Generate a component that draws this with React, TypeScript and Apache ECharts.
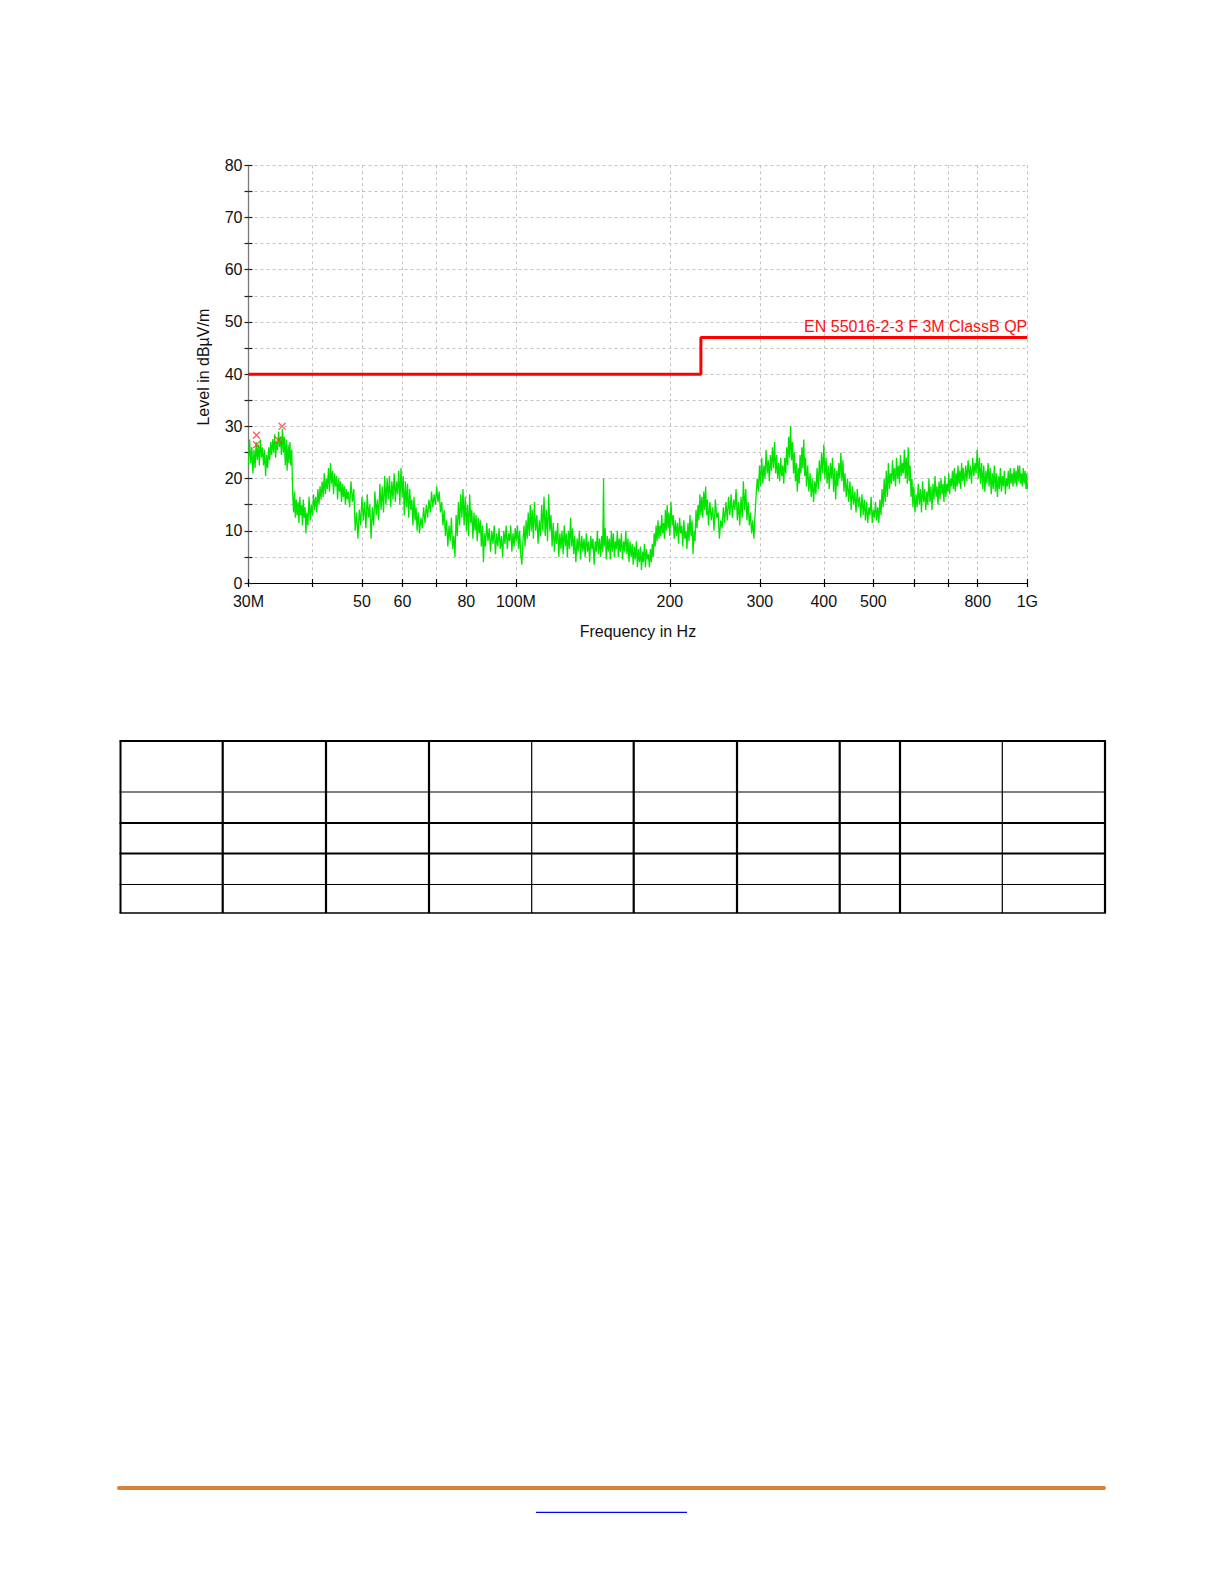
import React, { useEffect, useRef } from "react";
import * as echarts from "echarts";

// ---------- data ----------
const X_TICKS = [30, 40, 50, 60, 70, 80, 100, 200, 300, 400, 500, 600, 700, 800, 1000];
const X_LABELS = [30, 50, 60, 80, 100, 200, 300, 400, 500, 800, 1000];
const Y_LABELS = [0, 10, 20, 30, 40, 50, 60, 70, 80];

const LIMIT_NAME = "EN 55016-2-3 F 3M ClassB QP";
const LIMIT: [number, number][] = [
  [30, 40],
  [230, 40],
  [230, 47],
  [1000, 47],
];

const MARKERS: [number, number][] = [
  [31.1, 28.3],
  [31.1, 26.5],
  [34.3, 27.4],
  [34.9, 30.0],
];

// Measured trace [MHz, dBµV/m]
const SPECTRUM: [number, number][] = [
  [30.0, 22.5], [30.15, 27.5], [30.3, 23], [30.45, 26], [30.6, 21], [30.75, 25.5], [30.9, 22], [31.05, 27],
  [31.2, 23.5], [31.35, 26.5], [31.5, 22.5], [31.65, 27.5], [31.8, 24], [31.95, 26], [32.1, 22.5], [32.25, 25.5],
  [32.4, 20.5], [32.55, 24.5], [32.7, 22], [32.85, 26], [33.0, 23.5], [33.15, 27], [33.3, 24.5], [33.45, 27.5],
  [33.6, 25], [33.75, 28.5], [33.9, 24], [34.05, 27], [34.2, 25.5], [34.35, 29], [34.5, 26], [34.65, 28],
  [34.8, 24.5], [34.95, 29.5], [35.1, 25], [35.25, 28], [35.4, 22.5], [35.55, 27.5], [35.7, 21.5], [35.85, 26.5],
  [36.0, 23], [36.15, 27], [36.3, 22.5], [36.45, 25.5], [36.6, 17], [36.75, 13.5], [36.9, 17.5], [37.05, 12.5],
  [37.2, 16], [37.35, 13], [37.5, 15.5], [37.65, 11.5], [37.8, 16.5], [37.95, 13], [38.1, 15], [38.25, 11],
  [38.4, 16], [38.55, 12.5], [38.7, 14.5], [38.85, 9.5], [39.0, 13.5], [39.2, 11], [39.4, 16.5], [39.6, 12],
  [39.8, 15], [40.0, 13], [40.2, 17], [40.4, 14], [40.6, 16.5], [40.8, 13.5], [41.0, 18], [41.2, 15],
  [41.4, 18.5], [41.6, 16], [41.8, 19.5], [42.0, 16.5], [42.2, 21], [42.4, 17], [42.6, 20], [42.8, 18],
  [43.0, 22], [43.2, 17.5], [43.4, 23], [43.6, 19], [43.8, 21.5], [44.0, 17], [44.2, 21], [44.4, 18.5],
  [44.6, 20.5], [44.8, 16], [45.0, 20], [45.2, 17.5], [45.4, 19.5], [45.6, 15.5], [45.8, 19], [46.0, 16.5],
  [46.2, 18.5], [46.4, 15], [46.6, 18], [46.8, 16], [47.0, 17.5], [47.3, 14.5], [47.6, 19.5], [47.9, 15.5],
  [48.2, 18], [48.5, 10], [48.8, 13.5], [49.1, 8.5], [49.4, 14], [49.7, 11], [50.0, 16.5], [50.3, 12],
  [50.6, 15.5], [50.9, 10.5], [51.2, 17], [51.5, 12.5], [51.8, 15], [52.1, 8.5], [52.4, 14.5], [52.7, 11],
  [53.0, 17.5], [53.3, 13], [53.6, 16], [53.9, 12], [54.2, 19], [54.5, 14], [54.8, 18.5], [55.1, 13.5],
  [55.4, 20.5], [55.7, 15], [56.0, 20], [56.3, 16], [56.6, 20.5], [56.9, 14.5], [57.2, 19.5], [57.5, 16],
  [57.8, 21], [58.1, 15.5], [58.4, 19.5], [58.7, 17], [59.0, 21.5], [59.3, 15], [59.6, 22], [59.9, 16.5],
  [60.2, 20.5], [60.5, 13], [60.8, 19.5], [61.1, 14.5], [61.4, 19], [61.7, 12.5], [62.0, 18], [62.3, 14],
  [62.6, 16], [62.9, 11], [63.2, 16.5], [63.5, 12], [63.8, 14.5], [64.1, 10], [64.4, 13.5], [64.8, 9.5],
  [65.2, 12.5], [65.6, 10.5], [66.0, 14.5], [66.4, 11.5], [66.8, 15], [67.2, 12.5], [67.6, 16], [68.0, 13.5],
  [68.4, 17.5], [68.8, 14.5], [69.2, 17], [69.6, 15], [70.0, 18.5], [70.4, 15.5], [70.8, 17.5], [71.2, 13.5],
  [71.6, 15.5], [72.0, 11], [72.4, 14], [72.8, 9], [73.2, 12], [73.6, 7], [74.0, 11], [74.4, 8],
  [74.8, 12.5], [75.2, 6.5], [75.6, 9], [76.0, 5], [76.4, 13], [76.8, 9], [77.2, 15.5], [77.6, 11],
  [78.0, 17], [78.4, 12.5], [78.8, 18], [79.2, 11], [79.6, 16.5], [80.0, 10], [80.4, 15], [80.8, 9],
  [81.2, 17], [81.6, 11.5], [82.0, 14], [82.4, 8.5], [82.8, 13.5], [83.2, 10], [83.6, 13], [84.0, 8],
  [84.4, 12.5], [84.8, 9.5], [85.2, 12], [85.6, 7], [86.0, 11], [86.4, 4], [86.8, 9.5], [87.2, 7],
  [87.7, 11.5], [88.2, 8], [88.7, 10.5], [89.2, 6], [89.7, 10], [90.2, 7.5], [90.7, 11], [91.2, 5.5],
  [91.7, 9.5], [92.2, 7], [92.7, 10.5], [93.2, 6.5], [93.7, 9], [94.2, 5], [94.7, 10], [95.2, 7.5],
  [95.7, 11], [96.2, 6.5], [96.7, 9.5], [97.2, 8], [97.7, 11], [98.2, 6], [98.7, 9.5], [99.2, 7],
  [99.7, 10.5], [100.2, 8], [100.7, 11], [101.2, 6.5], [101.7, 10], [102.2, 5.5], [102.7, 3.5], [103.2, 8],
  [103.7, 11], [104.2, 7], [104.7, 12], [105.2, 8.5], [105.7, 13.5], [106.2, 9], [106.7, 15], [107.2, 10],
  [107.7, 14], [108.2, 8.5], [108.7, 15.5], [109.3, 10], [109.9, 13], [110.5, 7.5], [111.1, 12], [111.7, 9],
  [112.3, 15], [112.9, 10], [113.5, 16.5], [114.1, 9], [114.7, 14], [115.3, 8], [115.9, 17], [116.5, 10],
  [117.1, 13], [117.7, 7], [118.3, 11.5], [118.9, 6], [119.5, 10], [120.1, 7.5], [120.7, 11.5], [121.3, 5],
  [121.9, 9.5], [122.5, 6.5], [123.1, 10], [123.7, 5.5], [124.3, 11], [124.9, 7], [125.5, 9.5], [126.1, 5],
  [126.7, 10], [127.3, 6.5], [127.9, 12.5], [128.5, 7], [129.1, 10.5], [129.7, 5.5], [130.3, 9], [131.0, 4],
  [131.7, 8.5], [132.4, 6], [133.1, 10], [133.8, 4.5], [134.5, 9], [135.2, 6], [135.9, 8.5], [136.6, 5],
  [137.3, 9.5], [138.0, 6], [138.7, 8], [139.4, 4], [140.1, 9], [140.8, 6.5], [141.5, 8.5], [142.2, 3.5],
  [142.9, 8], [143.6, 6], [144.3, 10], [145.0, 5.5], [145.7, 8.5], [146.4, 5], [147.1, 9], [147.8, 6],
  [148.4, 20], [148.8, 7], [149.5, 10.5], [150.2, 4.5], [150.9, 9], [151.6, 6], [152.3, 8.5], [153.0, 4.5],
  [153.7, 10], [154.4, 6], [155.1, 9.5], [155.8, 5], [156.5, 8], [157.2, 6.5], [157.9, 10], [158.6, 5],
  [159.3, 8.5], [160.0, 6], [160.8, 9.5], [161.6, 4.5], [162.4, 8], [163.2, 6], [164.0, 10], [164.8, 5.5],
  [165.6, 8.5], [166.4, 4], [167.2, 8], [168.0, 5], [168.8, 7.5], [169.6, 3.5], [170.4, 7], [171.2, 4.5],
  [172.0, 8], [172.8, 3], [173.6, 6.5], [174.4, 4], [175.2, 7], [176.0, 2.5], [176.8, 6], [177.6, 4],
  [178.4, 7.5], [179.2, 3], [180.0, 6.5], [180.8, 4.5], [181.6, 5.5], [182.4, 3], [183.2, 6.5], [184.0, 4],
  [184.8, 7.5], [185.6, 5], [186.4, 9.5], [187.2, 7], [188.0, 11], [188.8, 8], [189.6, 12], [190.4, 8.5],
  [191.2, 11], [192.0, 9], [192.8, 13], [193.6, 9.5], [194.4, 11.5], [195.2, 8.5], [196.0, 14], [196.8, 10],
  [197.6, 15], [198.4, 10.5], [199.2, 13.5], [200.0, 9], [201.0, 15.5], [202.0, 11], [203.0, 13], [204.0, 8.5],
  [205.0, 12], [206.0, 9], [207.0, 11.5], [208.0, 7.5], [209.0, 12.5], [210.0, 9.5], [211.0, 11], [212.0, 7],
  [213.0, 12], [214.0, 8.5], [215.0, 10], [216.0, 6.5], [217.0, 11.5], [218.0, 8], [219.0, 13], [220.0, 9],
  [221.0, 12], [222.0, 5.5], [223.0, 10], [224.0, 8], [225.0, 14], [226.0, 10.5], [227.0, 15], [228.0, 12],
  [229.0, 17], [230.0, 13], [231.0, 16.5], [232.0, 12.5], [233.0, 17.5], [234.0, 14], [235.0, 18.5], [236.0, 13],
  [237.0, 16], [238.0, 11], [239.5, 15.5], [241.0, 12], [242.5, 14.5], [244.0, 10], [245.5, 16], [247.0, 12.5],
  [248.5, 13.5], [250.0, 8.5], [251.5, 12], [253.0, 10.5], [254.5, 14.5], [256.0, 11.5], [257.5, 15.5], [259.0, 12],
  [260.5, 16.5], [262.0, 13], [263.5, 17], [265.0, 12.5], [266.5, 16], [268.0, 14], [269.5, 18], [271.0, 12],
  [272.5, 15.5], [274.0, 11], [275.5, 16.5], [277.0, 12.5], [278.5, 19.5], [280.0, 14], [281.5, 18], [283.0, 12],
  [284.5, 15.5], [286.0, 11], [287.5, 13.5], [289.0, 9.5], [290.5, 12], [292.0, 8.5], [293.5, 13], [295.0, 17],
  [296.5, 20], [298.0, 17.5], [299.5, 22.5], [301.0, 18.5], [302.5, 24], [304.0, 19], [305.5, 22.5], [307.0, 20],
  [308.5, 25.5], [310.0, 21], [311.5, 23.5], [313.0, 19.5], [314.5, 24.5], [316.0, 21.5], [317.5, 26], [319.0, 22],
  [320.5, 27], [322.0, 21], [323.5, 24.5], [325.0, 20], [326.5, 23], [328.0, 19.5], [329.5, 24], [331.0, 20.5],
  [332.5, 22.5], [334.0, 19], [335.5, 24], [337.0, 21], [338.5, 26], [340.0, 22.5], [341.5, 28], [343.0, 24],
  [344.5, 30], [346.0, 23.5], [347.5, 27], [349.0, 21], [350.5, 25], [352.0, 19.5], [353.5, 23], [355.0, 17.5],
  [356.5, 22], [358.0, 19], [359.5, 24.5], [361.0, 21], [362.5, 26], [364.0, 22], [365.5, 27.5], [367.0, 20.5],
  [368.5, 24], [370.0, 18.5], [372.0, 22.5], [374.0, 17.5], [376.0, 21], [378.0, 16.5], [380.0, 20], [382.0, 15.5],
  [384.0, 19.5], [386.0, 17], [388.0, 22], [390.0, 18], [392.0, 23.5], [394.0, 19.5], [396.0, 25], [398.0, 21],
  [400.0, 26.5], [402.0, 20], [404.0, 24], [406.0, 19], [408.0, 22.5], [410.0, 18], [412.0, 23], [414.0, 20],
  [416.0, 24], [418.0, 17.5], [420.0, 22], [422.0, 16], [424.0, 21.5], [426.0, 18.5], [428.0, 23], [430.0, 20],
  [432.0, 25], [434.0, 19.5], [436.0, 23.5], [438.0, 17.5], [440.0, 21], [442.5, 16.5], [445.0, 20], [447.5, 15.5],
  [450.0, 19.5], [452.5, 14], [455.0, 18.5], [457.5, 15], [460.0, 17.5], [462.5, 13.5], [465.0, 18], [467.5, 14.5],
  [470.0, 16.5], [472.5, 12.5], [475.0, 17], [477.5, 13], [480.0, 16], [482.5, 12], [485.0, 15.5], [487.5, 11.5],
  [490.0, 14.5], [492.5, 13], [495.0, 16.5], [497.5, 11.5], [500.0, 14], [502.5, 12.5], [505.0, 15.5], [507.5, 12],
  [510.0, 14.5], [512.5, 11.5], [515.0, 16], [517.5, 13], [520.0, 18], [522.5, 14.5], [525.0, 20], [527.5, 15.5],
  [530.0, 21.5], [532.5, 16.5], [535.0, 23], [537.5, 18], [540.0, 21], [542.5, 19], [545.0, 23.5], [547.5, 19.5],
  [550.0, 22], [552.5, 18.5], [555.0, 24], [557.5, 20], [560.0, 22.5], [562.5, 19], [565.0, 24.5], [567.5, 20.5],
  [570.0, 23], [572.5, 21], [575.0, 25.5], [577.5, 20], [580.0, 24], [582.5, 19], [585.0, 26], [587.5, 19.5],
  [590.0, 22.5], [592.5, 16.5], [595.0, 20], [597.5, 14.5], [600.0, 18.5], [603.0, 13.5], [606.0, 17], [609.0, 14.5],
  [612.0, 19], [615.0, 15], [618.0, 18], [621.0, 13.5], [624.0, 19.5], [627.0, 15.5], [630.0, 18], [633.0, 14],
  [636.0, 17.5], [639.0, 15], [642.0, 20], [645.0, 15.5], [648.0, 18.5], [651.0, 14], [654.0, 19], [657.0, 16],
  [660.0, 20.5], [663.0, 16.5], [666.0, 18.5], [669.0, 15], [672.0, 19.5], [675.0, 16], [678.0, 20], [681.0, 17],
  [684.0, 19], [687.0, 15.5], [690.0, 20.5], [693.0, 16.5], [696.0, 19], [699.0, 17.5], [702.0, 21], [705.0, 17],
  [708.0, 20], [711.0, 18.5], [714.0, 21.5], [717.0, 18], [720.0, 22], [723.0, 17.5], [726.0, 21], [729.0, 18.5],
  [732.0, 22.5], [735.0, 19], [738.0, 21.5], [741.0, 18], [744.0, 23], [747.0, 19.5], [750.0, 22], [754.0, 18.5],
  [758.0, 22.5], [762.0, 19.5], [766.0, 23.5], [770.0, 20], [774.0, 22.5], [778.0, 19], [782.0, 24], [786.0, 20.5],
  [790.0, 23], [794.0, 21], [798.0, 25.5], [802.0, 20], [806.0, 24], [810.0, 19], [814.0, 23], [818.0, 18],
  [822.0, 22.5], [826.0, 17.5], [830.0, 21.5], [834.0, 19], [838.0, 23], [842.0, 18.5], [846.0, 22], [850.0, 17],
  [854.0, 21], [858.0, 18], [862.0, 22.5], [866.0, 17.5], [870.0, 21], [874.0, 16.5], [878.0, 20.5], [882.0, 18],
  [886.0, 22], [890.0, 17.5], [894.0, 20.5], [898.0, 18.5], [902.0, 21.5], [906.0, 17], [910.0, 20], [914.0, 18.5],
  [918.0, 21.5], [922.0, 18], [926.0, 22], [930.0, 19], [934.0, 21], [938.0, 18.5], [942.0, 22], [946.0, 19],
  [950.0, 21.5], [954.0, 18.5], [958.0, 22.5], [962.0, 19.5], [966.0, 22.5], [970.0, 19], [974.0, 21], [978.0, 18.5],
  [982.0, 22], [986.0, 19], [990.0, 21.5], [994.0, 18], [998.0, 21], [1000.0, 18],
];

// ---------- layout (page drawing) ----------
const FONT = '"Liberation Sans", Arial, Helvetica, sans-serif';
const TABLE_LEFT = 120.5;
const TABLE_RIGHT = 1105;
const TABLE_TOP = 741;
const TABLE_BOTTOM = 913;
const TABLE_ROWS = [
  { y: 741, w: 2.2 },
  { y: 792, w: 1.2 },
  { y: 823, w: 2.2 },
  { y: 853.5, w: 2.2 },
  { y: 884.5, w: 1.2 },
  { y: 913, w: 1.5 },
];
const TABLE_COLS = [
  { x: 120.5, w: 2 },
  { x: 222.7, w: 2.2 },
  { x: 326, w: 2.2 },
  { x: 429, w: 2.2 },
  { x: 531.7, w: 1.2 },
  { x: 633.7, w: 2.2 },
  { x: 737, w: 2.2 },
  { x: 839.7, w: 2.2 },
  { x: 900, w: 2.2 },
  { x: 1002.3, w: 1.2 },
  { x: 1105, w: 2.2 },
];

const fmtX = (v: number) => {
  const r = Math.round(v);
  if (r === 30) return "30M";
  if (r === 100) return "100M";
  if (r === 1000) return "1G";
  return String(r);
};

const CROSS = "path://M0,1.2L1.2,0L10,8.8L8.8,10Z M8.8,0L10,1.2L1.2,10L0,8.8Z";

export default function App() {
  const ref = useRef<HTMLDivElement>(null);

  useEffect(() => {
    if (!ref.current) return;
    const chart = echarts.init(ref.current, undefined, { renderer: "svg" });

    const gridLine = { show: true, lineStyle: { color: "#c4c4c4", width: 1, type: [3, 3] as any } };
    const labelText = { fontFamily: FONT, fontSize: 16, color: "#111" };

    const graphics: any[] = [];
    TABLE_ROWS.forEach((r) =>
      graphics.push({
        type: "line",
        silent: true,
        shape: { x1: TABLE_LEFT - 1, y1: r.y, x2: TABLE_RIGHT + 1, y2: r.y },
        style: { stroke: "#000", lineWidth: r.w },
      })
    );
    TABLE_COLS.forEach((c) =>
      graphics.push({
        type: "line",
        silent: true,
        shape: { x1: c.x, y1: TABLE_TOP, x2: c.x, y2: TABLE_BOTTOM },
        style: { stroke: "#000", lineWidth: c.w },
      })
    );
    graphics.push({
      type: "line",
      silent: true,
      shape: { x1: 119, y1: 1488, x2: 1104, y2: 1488 },
      style: { stroke: "#d88036", lineWidth: 4, lineCap: "round" },
    });
    graphics.push({
      type: "line",
      silent: true,
      shape: { x1: 536, y1: 1512.3, x2: 687, y2: 1512.3 },
      style: { stroke: "#0000ff", lineWidth: 1.3 },
    });

    chart.setOption({
      animation: false,
      backgroundColor: "#ffffff",
      grid: {
        left: 248.5,
        top: 165.3,
        width: 778.8,
        height: 417.7,
        containLabel: false,
        outerBoundsMode: "none",
      } as any,
      xAxis: [
        {
          type: "log",
          logBase: 10,
          min: 30,
          max: 1000,
          position: "bottom",
          name: "Frequency in Hz",
          nameLocation: "middle",
          nameGap: 40,
          nameMoveOverlap: false,
          nameTextStyle: { ...labelText },
          axisLine: { show: true, onZero: false, lineStyle: { color: "#000", width: 1.2 } },
          axisTick: { show: true, inside: false, length: 4, customValues: X_TICKS, lineStyle: { color: "#000", width: 1.2 } },
          axisLabel: { show: true, customValues: X_LABELS, formatter: fmtX, margin: 10, ...labelText },
          minorTick: { show: false },
          minorSplitLine: { show: false },
          splitLine: gridLine,
        },
        {
          type: "log",
          logBase: 10,
          min: 30,
          max: 1000,
          position: "bottom",
          axisLine: { show: false, onZero: false },
          axisTick: { show: true, inside: true, length: 4, customValues: X_TICKS, lineStyle: { color: "#000", width: 1.2 } },
          axisLabel: { show: false },
          splitLine: { show: false },
        },
      ] as any,
      yAxis: [
        {
          type: "value",
          min: 0,
          max: 80,
          interval: 5,
          position: "left",
          name: "Level in dBµV/m",
          nameLocation: "middle",
          nameGap: 37,
          nameRotate: 90,
          nameMoveOverlap: false,
          nameTextStyle: { ...labelText, padding: [0, 0, 0, 14] },
          axisLine: { show: true, onZero: false, lineStyle: { color: "#7a7a7a", width: 1.3 } },
          axisTick: { show: true, inside: false, length: 4, lineStyle: { color: "#222", width: 1.2 } },
          axisLabel: { show: true, customValues: Y_LABELS, margin: 6, ...labelText },
          splitLine: gridLine,
        },
        {
          type: "value",
          min: 0,
          max: 80,
          interval: 5,
          position: "left",
          axisLine: { show: false, onZero: false },
          axisTick: { show: true, inside: true, length: 4, lineStyle: { color: "#222", width: 1.2 } },
          axisLabel: { show: false },
          splitLine: { show: false },
        },
      ] as any,
      graphic: graphics,
      series: [
        {
          name: "Trace",
          type: "line",
          xAxisIndex: 0,
          yAxisIndex: 0,
          data: SPECTRUM,
          showSymbol: false,
          symbol: "none",
          lineStyle: { color: "#00e400", width: 1.3 },
          z: 3,
        },
        {
          name: LIMIT_NAME,
          type: "line",
          xAxisIndex: 0,
          yAxisIndex: 0,
          data: LIMIT,
          showSymbol: false,
          symbol: "none",
          lineStyle: { color: "#ff0000", width: 3 },
          z: 4,
          markPoint: {
            symbol: "circle",
            symbolSize: 1,
            itemStyle: { color: "rgba(0,0,0,0)" },
            silent: true,
            data: [
              {
                coord: LIMIT[LIMIT.length - 1],
                label: {
                  show: true,
                  position: "top",
                  align: "right",
                  distance: 3,
                  formatter: LIMIT_NAME,
                  fontFamily: FONT,
                  fontSize: 16,
                  color: "#ff1010",
                },
              },
            ],
          },
        },
        {
          name: "Markers",
          type: "scatter",
          xAxisIndex: 0,
          yAxisIndex: 0,
          data: MARKERS,
          symbol: CROSS,
          symbolSize: 8,
          itemStyle: { color: "#ff3b3b" },
          z: 5,
        },
      ],
    });

    return () => chart.dispose();
  }, []);

  return (
    <div
      ref={ref}
      style={{ position: "absolute", left: 0, top: 0, width: 1225, height: 1585, background: "#fff" }}
    />
  );
}
